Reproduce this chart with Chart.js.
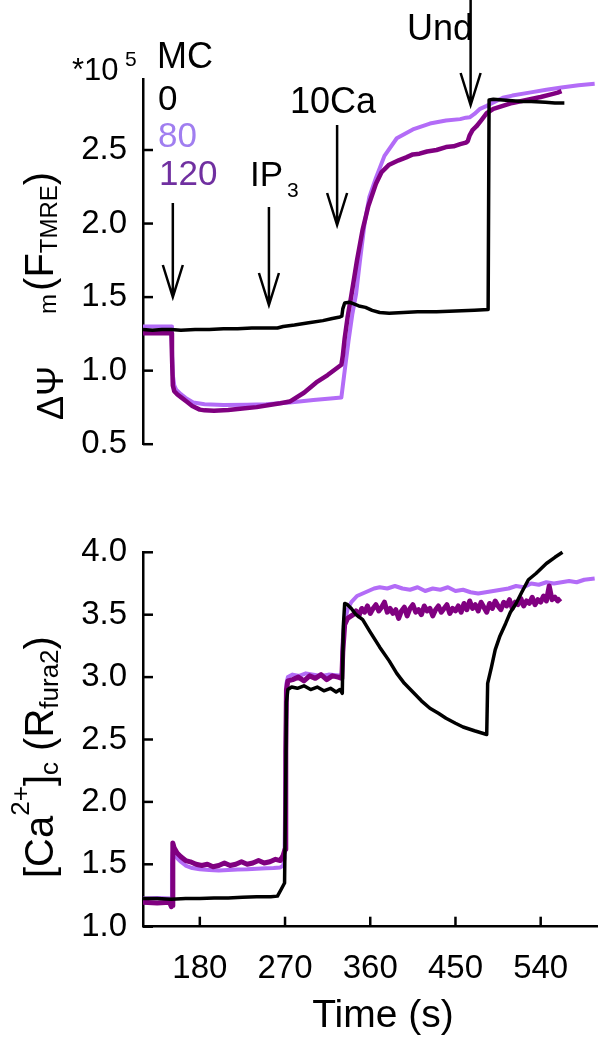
<!DOCTYPE html>
<html>
<head>
<meta charset="utf-8">
<script src="https://cdn.jsdelivr.net/npm/chart.js@4.4.1/dist/chart.umd.min.js"></script>
<style>
  body { margin: 0; background: #fff; }
  #wrap { position: relative; width: 603px; height: 1040px; }
  canvas { position: absolute; left: 0; }
</style>
</head>
<body>
<div id="wrap">
  <canvas id="tmreChart" width="603" height="480" style="top:0px"></canvas>
  <canvas id="furaChart" width="603" height="560" style="top:480px"></canvas>
</div>
<script>
// ---------- data ----------
const timeTicks = [180, 270, 360, 450, 540];
const tmreTicks = [0.5, 1.0, 1.5, 2.0, 2.5];
const furaTicks = [1.0, 1.5, 2.0, 2.5, 3.0, 3.5, 4.0];
const mcLabels = ['0', '80', '120'];
const eventNames = ['MC', 'IP', '10Ca', 'Und'];
const eventTimes = [151.5, 253, 325, 466];

// top panel: TMRE fluorescence (*10^5)
const tmreT0 = [120,130,140,150,160,175,190,205,220,235,250,262,268,280,295,310,320,328,330,331,333,338,342,348,355,362,370,380,395,410,430,450,470,484.5,485.5,490,500,510,520,530,545,555,565];
const tmreF0 = [1.28,1.275,1.28,1.28,1.275,1.28,1.28,1.285,1.285,1.29,1.29,1.29,1.30,1.31,1.325,1.34,1.355,1.365,1.37,1.42,1.46,1.465,1.455,1.44,1.43,1.41,1.395,1.39,1.395,1.40,1.40,1.405,1.41,1.415,2.84,2.845,2.84,2.835,2.83,2.83,2.825,2.82,2.82];

const tmreT80 = [120,135,150,150.6,151.5,153,155,160,165,173,185,205,230,250,275,300,318,329.5,333,337,341,345,349,354,359,366,375,388,405,423,440,455,461,465,470,476,483,489,500,510,528,546,562,580,597];
const tmreF80 = [1.30,1.30,1.30,1.15,0.97,0.90,0.87,0.84,0.815,0.784,0.772,0.766,0.768,0.772,0.784,0.80,0.81,0.817,1.0,1.2,1.38,1.52,1.74,2.0,2.18,2.31,2.46,2.58,2.64,2.68,2.70,2.71,2.72,2.722,2.745,2.78,2.80,2.82,2.855,2.87,2.89,2.91,2.925,2.94,2.95];

const tmreT120 = [120,135,150,150.6,151.5,153,156,160,166,172,180,185,195,210,225,240,255,265,275,290,303,315,329.5,331,333,336,340,346,352,358,366,372,380,390,398,405,412,420,430,440,448,455,461,463,465,468,472,477,483,490,500,510,525,540,552,558,562];
const tmreF120 = [1.255,1.255,1.255,1.10,0.90,0.86,0.84,0.82,0.79,0.76,0.735,0.73,0.728,0.733,0.742,0.752,0.768,0.778,0.79,0.85,0.92,0.97,1.04,1.10,1.22,1.36,1.51,1.75,1.96,2.12,2.27,2.35,2.40,2.43,2.45,2.47,2.475,2.49,2.50,2.52,2.525,2.54,2.55,2.56,2.60,2.635,2.66,2.70,2.75,2.78,2.80,2.82,2.84,2.86,2.88,2.89,2.90];

// bottom panel: fura2 ratio
const furaT0 = [120,135,150,165,180,195,210,225,240,255,262,266,269.5,270.5,271.5,273,277,283,290,297,304,311,318,324,328,330.5,331.5,333,336,340,345,352,360,370,380,388,396,405,414,423,432,440,450,458,470,483,484,488,492,497,503,508,514,520,527,535,546,555,563];
const furaR0 = [1.225,1.225,1.22,1.225,1.225,1.23,1.23,1.235,1.24,1.24,1.245,1.30,1.35,2.0,2.8,2.90,2.92,2.91,2.93,2.90,2.92,2.89,2.91,2.88,2.90,2.87,3.40,3.59,3.58,3.55,3.50,3.46,3.36,3.24,3.13,3.03,2.95,2.88,2.81,2.75,2.71,2.67,2.63,2.60,2.57,2.54,2.95,3.08,3.22,3.33,3.43,3.52,3.59,3.68,3.78,3.83,3.91,3.96,4.0];

const furaT80 = [120,135,150,150.6,151.5,153,156,160,165,172,180,190,200,210,220,230,240,250,258,265,268,269.5,270.5,271.5,273,278,285,292,300,308,316,324,330,331,333,336,340,346,352,358,364,370,378,386,394,402,410,418,426,434,442,450,458,466,474,482,490,498,506,514,522,530,538,546,554,562,570,578,586,597];
const furaR80 = [1.225,1.23,1.225,1.50,1.60,1.59,1.55,1.52,1.49,1.47,1.46,1.455,1.45,1.455,1.458,1.46,1.465,1.468,1.47,1.475,1.49,1.55,2.3,2.95,3.00,3.02,3.01,3.03,3.02,3.01,3.02,3.015,3.01,3.30,3.45,3.54,3.60,3.65,3.67,3.69,3.71,3.72,3.71,3.73,3.71,3.70,3.72,3.69,3.71,3.70,3.72,3.69,3.70,3.68,3.67,3.68,3.69,3.70,3.71,3.73,3.72,3.75,3.74,3.76,3.75,3.76,3.77,3.76,3.78,3.79];

const furaT120 = [120,135,148,150,150.8,151.5,153,156,160,165,170,176,182,188,194,200,206,212,218,224,230,236,242,248,254,260,265,268,270,270.8,271.5,273,278,284,290,296,302,308,314,320,326,330,331,333,336,340,
  342,345,348,351,354,357,360,363,366,369,372,375,378,381,384,387,390,393,396,399,402,405,408,411,414,417,420,423,426,429,432,435,438,441,444,447,450,453,456,459,462,465,468,471,474,477,480,483,486,489,492,495,498,501,504,507,510,513,516,519,522,525,528,531,534,537,540,543,546,549,552,555,558,561];
const furaR120 = [1.195,1.19,1.195,1.16,1.17,1.67,1.63,1.59,1.56,1.53,1.52,1.50,1.49,1.50,1.48,1.49,1.51,1.49,1.50,1.52,1.50,1.51,1.53,1.51,1.52,1.54,1.53,1.57,1.62,2.4,2.9,2.97,2.98,3.00,2.97,3.01,2.99,3.02,2.98,3.01,3.00,2.99,3.20,3.42,3.47,3.49,
  3.50,3.53,3.49,3.55,3.52,3.57,3.51,3.55,3.58,3.53,3.56,3.60,3.52,3.55,3.51,3.54,3.47,3.53,3.56,3.49,3.55,3.58,3.52,3.54,3.50,3.57,3.53,3.55,3.49,3.54,3.57,3.52,3.55,3.58,3.51,3.55,3.53,3.57,3.52,3.59,3.54,3.61,3.55,3.58,3.53,3.60,3.56,3.52,3.59,3.55,3.61,3.57,3.54,3.60,3.57,3.62,3.55,3.60,3.58,3.63,3.57,3.61,3.59,3.64,3.58,3.62,3.60,3.65,3.61,3.73,3.62,3.64,3.61,3.63];

// ---------- helpers ----------
const FONT = "'Liberation Sans', Arial, sans-serif";
const BLACK = '#000000';
const LIGHT = '#b36cf7';
const DARK = '#800080';
const LIGHT_TXT = '#a07ef0';
const DARK_TXT = '#7030a0';

const pts = (t, v) => t.map((x, i) => ({ x: x, y: v[i] }));

function series(label, t, v, color, width) {
  return {
    label: label,
    data: pts(t, v),
    borderColor: color,
    borderWidth: width,
    pointRadius: 0,
    tension: 0,
    borderJoinStyle: 'round',
    clip: false
  };
}

function fixTicks(list) {
  return function (scale) { scale.ticks = list.map(v => ({ value: v })); };
}

// ticks pointing into the plot
const innerTicks = {
  id: 'innerTicks',
  afterDraw(chart) {
    const ctx = chart.ctx, a = chart.chartArea;
    ctx.save();
    ctx.strokeStyle = '#000';
    ctx.lineWidth = 2.5;
    Object.values(chart.scales).forEach(s => {
      if (!s.options.display) return;
      s.ticks.forEach(t => {
        const p = s.getPixelForValue(t.value);
        ctx.beginPath();
        if (s.axis === 'y') { ctx.moveTo(a.left, p); ctx.lineTo(a.left + 10, p); }
        else { ctx.moveTo(p, a.bottom); ctx.lineTo(p, a.bottom - 10); }
        ctx.stroke();
      });
    });
    ctx.restore();
  }
};

function txt(ctx, s, x, y, size, color, align) {
  ctx.font = size + 'px ' + FONT;
  ctx.fillStyle = color || '#000';
  ctx.textAlign = align || 'left';
  ctx.textBaseline = 'alphabetic';
  ctx.fillText(s, x, y);
}

// rotated title, reads bottom to top
function vertTitle(ctx, x, y, parts) {
  ctx.save();
  ctx.translate(x, y);
  ctx.rotate(-Math.PI / 2);
  ctx.fillStyle = '#000';
  ctx.textAlign = 'left';
  ctx.textBaseline = 'alphabetic';
  let cur = 0;
  parts.forEach(p => {
    cur += p.gap || 0;
    ctx.font = p.size + 'px ' + FONT;
    ctx.fillText(p.t, cur, p.dy || 0);
    cur += ctx.measureText(p.t).width;
  });
  ctx.restore();
}

function arrow(ctx, x, y1, y2) {
  ctx.beginPath();
  ctx.moveTo(x, y1);
  ctx.lineTo(x, y2);
  ctx.moveTo(x - 10, y2 - 32);
  ctx.lineTo(x, y2);
  ctx.lineTo(x + 10, y2 - 32);
  ctx.stroke();
}

// ---------- top panel decorations ----------
const topDeco = {
  id: 'topDeco',
  afterDraw(chart) {
    const ctx = chart.ctx;
    const xs = chart.scales.x;
    ctx.save();
    ctx.strokeStyle = '#000';
    ctx.lineWidth = 2.5;
    const spans = [[203, 297], [207, 305], [125, 225], [0, 105]];
    eventTimes.forEach((t, i) => arrow(ctx, xs.getPixelForValue(t), spans[i][0], spans[i][1]));

    txt(ctx, '*10', 72, 80, 31);
    txt(ctx, '5', 125, 66, 21);
    txt(ctx, eventNames[0], 157, 68, 36);
    txt(ctx, mcLabels[0], 158, 110, 35, BLACK);
    txt(ctx, mcLabels[1], 158, 147, 35, LIGHT_TXT);
    txt(ctx, mcLabels[2], 159, 185, 35, DARK_TXT);
    txt(ctx, eventNames[1], 250, 186, 35);
    txt(ctx, '3', 287, 197, 21);
    txt(ctx, eventNames[2], 290, 113, 36);
    txt(ctx, eventNames[3], 407, 40, 36);

    vertTitle(ctx, 53, 420, [
      { t: '\u0394\u03A8', size: 36, dy: 10 },
      { t: 'm', size: 24, dy: 3, gap: 52 },
      { t: '(', size: 40, gap: 3 },
      { t: 'F', size: 40 },
      { t: 'TMRE', size: 24, dy: 4 },
      { t: ')', size: 40 }
    ]);
    ctx.restore();
  }
};

// ---------- bottom panel decorations ----------
const bottomDeco = {
  id: 'bottomDeco',
  afterDraw(chart) {
    const ctx = chart.ctx;
    ctx.save();
    txt(ctx, 'Time (s)', 383, 547, 39, '#000', 'center');
    vertTitle(ctx, 53, 398, [
      { t: '[Ca', size: 40 },
      { t: '2+', size: 26, dy: -24 },
      { t: ']', size: 40 },
      { t: 'c', size: 26, dy: 5 },
      { t: ' (R', size: 40 },
      { t: 'fura2', size: 26, dy: 5 },
      { t: ')', size: 40 }
    ]);
    ctx.restore();
  }
};

const tickFont = { family: FONT, size: 33 };

// ---------- top chart ----------
new Chart(document.getElementById('tmreChart'), {
  type: 'line',
  data: {
    datasets: [
      series('0', tmreT0, tmreF0, BLACK, 3.5),
      series('120', tmreT120, tmreF120, DARK, 4.5),
      series('80', tmreT80, tmreF80, LIGHT, 4)
    ]
  },
  options: {
    responsive: false,
    animation: false,
    events: [],
    layout: { padding: { left: 0, right: 5.5, top: 79.4, bottom: 27.3 } },
    plugins: { legend: { display: false }, tooltip: { enabled: false } },
    scales: {
      x: { type: 'linear', min: 120, max: 600, display: false },
      y: {
        type: 'linear', min: 0.5, max: 2.98,
        afterBuildTicks: fixTicks(tmreTicks),
        afterFit: s => { s.width = 143; },
        grid: { display: false, drawTicks: false },
        border: { color: '#000', width: 2.5 },
        ticks: { font: tickFont, color: '#000', padding: 16, callback: v => Number(v).toFixed(1) }
      }
    }
  },
  plugins: [innerTicks, topDeco]
});

// ---------- bottom chart ----------
new Chart(document.getElementById('furaChart'), {
  type: 'line',
  data: {
    datasets: [
      series('0', furaT0, furaR0, BLACK, 3.5),
      series('120', furaT120, furaR120, DARK, 5),
      series('80', furaT80, furaR80, LIGHT, 4)
    ]
  },
  options: {
    responsive: false,
    animation: false,
    events: [],
    layout: { padding: { left: 0, right: 5.5, top: 72.3, bottom: 0 } },
    plugins: { legend: { display: false }, tooltip: { enabled: false } },
    scales: {
      x: {
        type: 'linear', min: 120, max: 600,
        afterBuildTicks: fixTicks(timeTicks),
        afterFit: s => { s.height = 113.3; },
        grid: { display: false, drawTicks: false },
        border: { color: '#000', width: 2.5 },
        ticks: { font: tickFont, color: '#000', padding: 22, maxRotation: 0, autoSkip: false }
      },
      y: {
        type: 'linear', min: 1, max: 4,
        afterBuildTicks: fixTicks(furaTicks),
        afterFit: s => { s.width = 143; },
        grid: { display: false, drawTicks: false },
        border: { color: '#000', width: 2.5 },
        ticks: { font: tickFont, color: '#000', padding: 16, callback: v => Number(v).toFixed(1) }
      }
    }
  },
  plugins: [innerTicks, bottomDeco]
});
</script>
</body>
</html>
